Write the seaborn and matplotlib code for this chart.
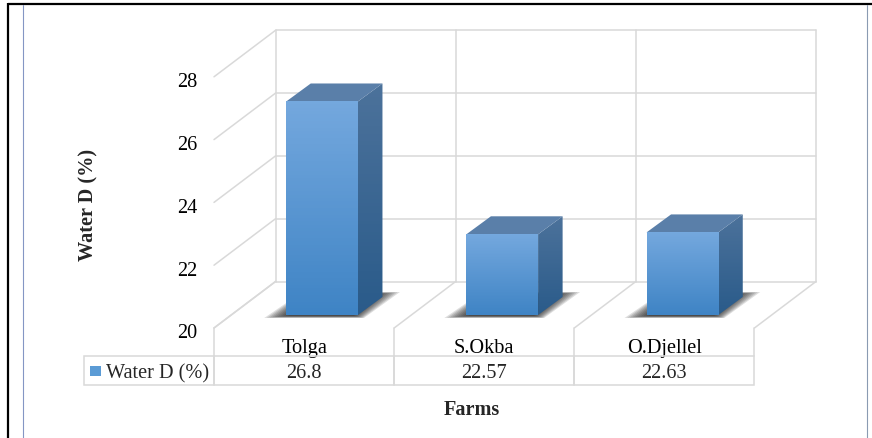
import numpy as np
import seaborn as sns
import matplotlib.pyplot as plt
from matplotlib.colors import LinearSegmentedColormap
from matplotlib.patches import Polygon, Rectangle
from matplotlib.table import Table
from matplotlib.transforms import ScaledTranslation

# values
farms = ['Tolga', 'S.Okba', 'O.Djellel']
water_d = [26.8, 22.57, 22.63]
y_ticks = [20, 22, 24, 26, 28]
series_name = 'Water D (%)'

W, H = 872, 439
GRID = '#d9d9d9'
FS = 14.6

sns.set_style('white')
plt.rcParams['font.family'] = ['Liberation Serif', 'DejaVu Serif']
plt.rcParams['font.size'] = FS

fig = plt.figure(figsize=(W / 100, H / 100), dpi=100)

# main axes: left 214px, right 816px, value 20 at y=316px, top at y=31.3px
PX_PER_CAT = 180
PX_PER_VAL = 31.4
ax = fig.add_axes([214 / W, 1 - 316 / H, (816 - 214) / W, (316 - 31.3) / H])
ax.patch.set_visible(False)


def dx(px):
    return px / PX_PER_CAT


def dy(px):
    return px / PX_PER_VAL


sns.barplot(x=farms, y=water_d, color='#5b9bd5', saturation=1, width=0.398, ax=ax, zorder=3)

y_min = y_ticks[0]
front_x = -0.600
back_x = front_x + dx(61.5)
front_y = -dy(13)
back_y = dy(33.5)

# back wall and floor
for v in y_ticks:
    ax.plot([back_x, back_x + 3], [v + back_y, v + back_y], color=GRID, lw=1.1, zorder=0, clip_on=False)
    ax.plot([front_x, back_x], [v + front_y, v + back_y], color=GRID, lw=1.1, zorder=0, clip_on=False)
for i in range(4):
    ax.plot([back_x + i, back_x + i], [y_min + back_y, y_ticks[-1] + back_y], color=GRID, lw=1.1, zorder=0, clip_on=False)
    ax.plot([front_x + i, back_x + i], [y_min + front_y, y_min + back_y], color=GRID, lw=1.1, zorder=0, clip_on=False)


def shade(patch, extent, c_top, c_bottom, z):
    cmap = LinearSegmentedColormap.from_list('g', [c_top, c_bottom])
    im = ax.imshow(np.linspace(0, 1, 64).reshape(-1, 1), cmap=cmap, extent=extent,
                   aspect='auto', origin='upper', zorder=z)
    im.set_clip_path(patch)


# fake 3D: shadow, side and top faces worked out from each bar
depth_x, depth_y = dx(24.5), dy(18)
for bar, val in zip(ax.patches[:len(farms)], water_d):
    x0 = bar.get_x()
    x1 = x0 + bar.get_width()

    # blurred floor shadow
    for k in np.linspace(1.0, 0.66, 10):
        cx, cy = (x0 + x1) / 2 + dx(12), y_min + dy(10)
        pts = [(x0 - dx(22), y_min - dy(3)), (x1 + dx(6), y_min - dy(3)),
               (x1 + dx(42), y_min + dy(23)), (x0 + dx(16), y_min + dy(23))]
        pts = [(cx + (px - cx) * k, cy + (py - cy) * (k * 0.5 + 0.5)) for px, py in pts]
        ax.add_patch(Polygon(pts, closed=True, fc='#1a1a1a', ec='none', alpha=0.14, zorder=1, clip_on=False))

    side = Polygon([(x1, y_min), (x1 + depth_x, y_min + depth_y),
                    (x1 + depth_x, val + depth_y), (x1, val)],
                   closed=True, fc='none', ec='none', zorder=2)
    ax.add_patch(side)
    shade(side, (x1, x1 + depth_x, y_min, val + depth_y), '#4c729b', '#2a5b8a', 2)

    ax.add_patch(Polygon([(x0, val), (x1, val), (x1 + depth_x, val + depth_y), (x0 + depth_x, val + depth_y)],
                         closed=True, fc='#5a7fa9', ec='none', zorder=2))

    bar.set_edgecolor('none')
    shade(bar, (x0, x1, y_min, val), '#74a8de', '#3f84c5', 4)

ax.set_xlim(front_x, back_x + 3)
ax.set_ylim(y_min, y_min + dy(316 - 31.3))
ax.set_yticks(y_ticks)
sns.despine(ax=ax, left=True, bottom=True, right=True, top=True)
ax.tick_params(axis='y', length=0, pad=12.2, labelsize=FS, colors='black')
ax.tick_params(axis='x', length=0, pad=16.8, labelsize=FS, colors='black')

# tick labels sit on the front plane, not under the bars
for lab in ax.get_yticklabels():
    lab.set_transform(lab.get_transform() + ScaledTranslation(0, -15.5 / 100, fig.dpi_scale_trans))
for lab in ax.get_xticklabels():
    lab.set_transform(lab.get_transform() + ScaledTranslation(-18 / 100, 0, fig.dpi_scale_trans))

ax.set_xlabel('Farms', fontweight='bold', fontsize=FS, va='center')
ax.xaxis.set_label_coords((472 - 214) / 602, (316 - 410) / 284.7)
ax.set_ylabel('Water D (%)', fontweight='bold', fontsize=FS, va='center')
ax.yaxis.set_label_coords((88 - 214) / 602, (316 - 205) / 284.7)

# overlay in pixel coordinates for the data table and the page frame
over = fig.add_axes([0, 0, 1, 1])
over.set_xlim(0, W)
over.set_ylim(H, 0)
over.axis('off')

for px in [214, 394, 574, 753.5]:
    over.plot([px, px], [329, 357], color=GRID, lw=1.1)

col_w = [130, 180, 180, 179.5]
tbl = Table(over, bbox=[84 / W, 1 - 386 / H, sum(col_w) / W, 29 / H])
cells = [series_name] + [str(v) for v in water_d]
for j, txt in enumerate(cells):
    cell = tbl.add_cell(0, j, col_w[j] / W, 29 / H, text=txt, loc='right' if j == 0 else 'center',
                        edgecolor=GRID, facecolor='none')
    cell.set_linewidth(1.1)
    cell.set_text_props(va='center_baseline')
    if j == 0:
        cell.PAD = 0.035
tbl.auto_set_font_size(False)
tbl.set_fontsize(FS)
over.add_table(tbl)

# legend key
over.add_patch(Rectangle((90, 366.5), 10.5, 10.5, fc='#5b9bd5', ec='none'))

# page frame from the source document
over.plot([7.5, W], [5, 5], color='black', lw=1.6, solid_capstyle='butt')
over.plot([8, 8], [4, H], color='black', lw=1.6, solid_capstyle='butt')
over.plot([22.5, 22.5], [6, H], color='#8496c4', lw=0.8)
over.plot([867, 867], [6, H], color='#8a9bb2', lw=0.8)

fig.savefig('out.png', dpi=100, facecolor='white')
